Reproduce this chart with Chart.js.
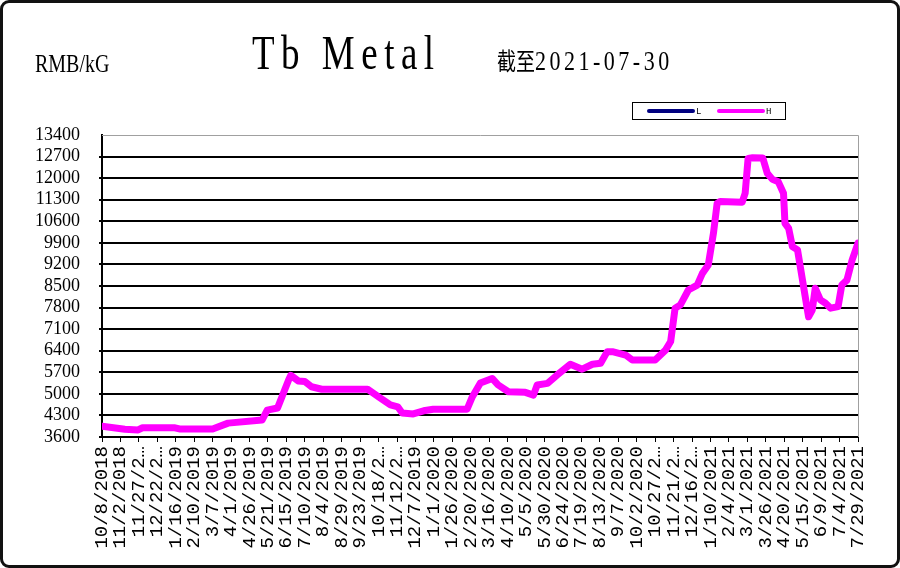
<!DOCTYPE html>
<html>
<head>
<meta charset="utf-8">
<script src="https://cdn.jsdelivr.net/npm/chart.js@4/dist/chart.umd.min.js"></script>
<style>
  html, body { margin: 0; padding: 0; background: #fff; }
  #wrap { position: relative; width: 900px; height: 568px; overflow: hidden; }
  #wrap canvas { position: absolute; left: 0; top: 0; }
  .txt { position: absolute; white-space: nowrap; color: #000; transform-origin: 0 0; }
  #unit { left: 35px; top: 49px; font: 20px "Liberation Serif", serif; letter-spacing: 0; transform: scaleY(1.3); }
  #title { left: 252px; top: 25px; font: 37px "Liberation Serif", serif; letter-spacing: 6.5px; transform: scaleY(1.3); }
  #asof { left: 497px; top: 42px; font: 22px "Liberation Serif", serif; letter-spacing: 3.5px; transform: scaleY(1.25); }
  #asof span { font: 19px "Noto Sans CJK SC", sans-serif; letter-spacing: 0; }
  #frame { position: absolute; left: 0; top: 0; width: 900px; height: 568px; box-sizing: border-box;
           border: 3px solid #111; border-radius: 9px; pointer-events: none; }
</style>
</head>
<body>
<div id="wrap">
  <canvas id="chart" width="900" height="568"></canvas>
  <div class="txt" id="unit">RMB/kG</div>
  <div class="txt" id="title">Tb Metal</div>
  <div class="txt" id="asof"><span>截至</span>2021-07-30</div>
  <div id="frame"></div>
</div>
<script>
// x labels every 25 days, starting 10/8/2018 (long ones truncated as in the source)
const tickLabels = [
    '10/8/2018', '11/2/2018', '11/27/2…', '12/22/2…', '1/16/2019', '2/10/2019', '3/7/2019',
    '4/1/2019', '4/26/2019', '5/21/2019', '6/15/2019', '7/10/2019', '8/4/2019', '8/29/2019',
    '9/23/2019', '10/18/2…', '11/12/2…', '12/7/2019', '1/1/2020', '1/26/2020', '2/20/2020',
    '3/16/2020', '4/10/2020', '5/5/2020', '5/30/2020', '6/24/2020', '7/19/2020', '8/13/2020',
    '9/7/2020', '10/2/2020', '10/27/2…', '11/21/2…', '12/16/2…', '1/10/2021', '2/4/2021',
    '3/1/2021', '3/26/2021', '4/20/2021', '5/15/2021', '6/9/2021', '7/4/2021', '7/29/2021'
];
const tickStepDays = 25;

const yTicks = [3600, 4300, 5000, 5700, 6400, 7100, 7800, 8500, 9200, 9900, 10600, 11300, 12000, 12700, 13400];

// days since 10/8/2018 and the price (H)
const dayOffsets = [0, 31, 49, 55, 99, 105, 150, 171, 217, 224, 238, 253, 256, 266, 275, 284, 298, 360, 377, 391,
    401, 407, 422, 436, 449, 495, 502, 513, 529, 537, 551, 574, 585, 590, 604, 617, 635, 651, 665, 676,
    685, 692, 710, 719, 750, 764, 771, 777, 784, 795, 807, 814, 822, 829, 834, 838, 868, 872, 876, 882,
    896, 902, 909, 917, 924, 926, 931, 936, 943, 949, 956, 958, 963, 967, 974, 981, 988, 998, 1003, 1010,
    1017, 1025];
const priceH = [3950, 3850, 3830, 3900, 3900, 3860, 3860, 4050, 4150, 4470, 4540, 5450, 5600, 5420, 5400, 5230, 5150, 5150, 4870, 4640,
    4580, 4380, 4350, 4450, 4500, 4500, 4900, 5350, 5500, 5290, 5070, 5050, 4960, 5290, 5340, 5610, 5960, 5800, 5960, 5990,
    6370, 6370, 6260, 6100, 6100, 6420, 6700, 7780, 7880, 8370, 8530, 8910, 9180, 10210, 11180, 11240, 11220, 11510, 12640, 12660,
    12650, 12160, 11960, 11880, 11510, 10530, 10370, 9780, 9670, 8800, 7780, 7500, 7720, 8430, 8050, 7940, 7780, 7830, 8530, 8690,
    9340, 9890];

const pointsH = dayOffsets.map((d, i) => ({ x: d, y: priceH[i] }));

// gray plot border on top/right, like the Excel plot area
const plotFrame = {
    id: 'plotFrame',
    beforeDatasetsDraw(chart) {
        const { ctx, chartArea: a } = chart;
        ctx.save();
        ctx.strokeStyle = '#a0a0a0';
        ctx.lineWidth = 1;
        ctx.beginPath();
        ctx.moveTo(a.left, a.top + 0.5);
        ctx.lineTo(a.right + 0.5, a.top + 0.5);
        ctx.lineTo(a.right + 0.5, a.bottom);
        ctx.stroke();
        ctx.restore();
    }
};

// small boxed legend in the top right
const boxLegend = {
    id: 'boxLegend',
    afterDraw(chart) {
        const ctx = chart.ctx;
        const x0 = 632, y0 = 102, w = 153, h = 17;
        ctx.save();
        ctx.fillStyle = '#fff';
        ctx.fillRect(x0, y0, w, h);
        ctx.strokeStyle = '#000';
        ctx.lineWidth = 1;
        ctx.strokeRect(x0 + 0.5, y0 + 0.5, w, h);
        ctx.font = '9px "Liberation Mono", monospace';
        ctx.textBaseline = 'middle';
        const slots = [649, 719];
        chart.data.datasets.forEach((ds, i) => {
            const sx = slots[i];
            ctx.strokeStyle = ds.borderColor;
            ctx.lineWidth = 4;
            ctx.lineCap = 'round';
            ctx.beginPath();
            ctx.moveTo(sx, y0 + 9);
            ctx.lineTo(sx + 44, y0 + 9);
            ctx.stroke();
            ctx.fillStyle = '#000';
            ctx.fillText(ds.label, sx + 47, y0 + 10);
        });
        ctx.restore();
    }
};

new Chart(document.getElementById('chart'), {
    type: 'line',
    data: {
        datasets: [
            {
                label: 'L',
                data: [],
                borderColor: '#000080',
                borderWidth: 6,
                pointRadius: 0,
                order: 2
            },
            {
                label: 'H',
                data: pointsH,
                borderColor: '#ff00ff',
                borderWidth: 7,
                pointRadius: 0,
                tension: 0,
                borderJoinStyle: 'round',
                borderCapStyle: 'round',
                order: 1
            }
        ]
    },
    options: {
        responsive: false,
        animation: false,
        layout: { padding: { left: 0, right: 42, top: 135, bottom: 0 } },
        plugins: {
            legend: { display: false },
            title: { display: false },
            tooltip: { enabled: false }
        },
        scales: {
            x: {
                type: 'linear',
                min: 0,
                max: tickStepDays * (tickLabels.length - 1),
                afterBuildTicks: s => { s.ticks = tickLabels.map((_, i) => ({ value: i * tickStepDays })); },
                afterFit: s => { s.height = 131; },
                border: { color: '#000', width: 2 },
                grid: { drawOnChartArea: false, drawTicks: true, tickLength: 5, color: '#000', lineWidth: 1 },
                ticks: {
                    autoSkip: false,
                    minRotation: 90,
                    maxRotation: 90,
                    padding: 4,
                    color: '#000',
                    font: { family: '"Liberation Mono", monospace', size: 19 },
                    callback: (v) => tickLabels[Math.round(v / tickStepDays)]
                }
            },
            y: {
                min: yTicks[0],
                max: yTicks[yTicks.length - 1],
                afterBuildTicks: s => { s.ticks = yTicks.map(v => ({ value: v })); },
                afterFit: s => { s.width = 102; },
                border: { color: '#000', width: 2 },
                grid: {
                    color: c => (c.tick && c.tick.value === 13400 ? 'rgba(0,0,0,0)' : '#000'),
                    lineWidth: 2,
                    tickLength: 3
                },
                ticks: {
                    autoSkip: false,
                    padding: 19,
                    color: '#000',
                    font: { family: '"Liberation Serif", serif', size: 18 },
                    callback: v => String(v)
                }
            }
        }
    },
    plugins: [plotFrame, boxLegend]
});
</script>
</body>
</html>
